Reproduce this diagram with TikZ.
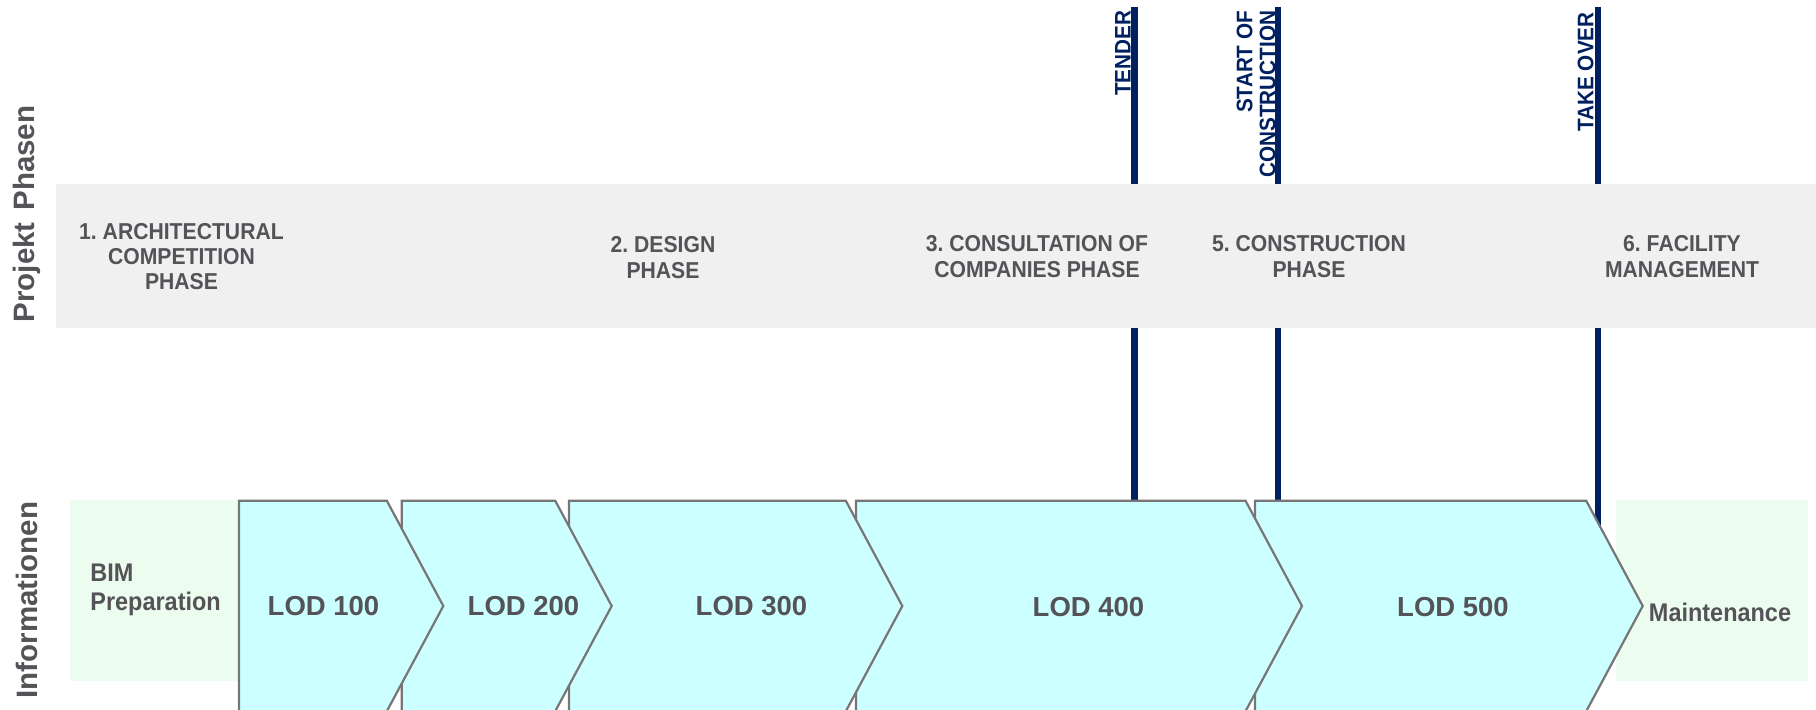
\documentclass[tikz,border=0pt]{standalone}
\usepackage{fontspec}
\setmainfont{Liberation Sans}
\newfontfamily\narrowsans[FakeStretch=0.92]{Liberation Sans}
\frenchspacing
\definecolor{bandgray}{RGB}{240,240,240}
\definecolor{labelgray}{RGB}{83,83,88}
\definecolor{milenavy}{RGB}{0,32,96}
\definecolor{lodcyan}{RGB}{204,255,255}
\definecolor{lodedge}{RGB}{118,118,118}
\definecolor{prepgreen}{RGB}{236,252,238}

\begin{document}
\begin{tikzpicture}[x=0.5pt,y=0.5pt,yscale=-1,xscale=1,
  phasetext/.style={text=labelgray,font=\narrowsans\fontsize{11.5}{13}\selectfont\bfseries,align=center,inner sep=0pt},
  milestone/.style={text=milenavy,font=\narrowsans\fontsize{11.25}{11.5}\selectfont\bfseries,rotate=90,anchor=south east,align=right,inner sep=0pt},
  mileline/.style={draw=milenavy,line width=3.3pt},
  lodbox/.style={draw=lodedge,fill=lodcyan,line width=1.1pt},
  lodtext/.style={text=labelgray,font=\fontsize{13.75}{16}\selectfont\bfseries,inner sep=0pt},
  sidetext/.style={text=labelgray,font=\fontsize{14.75}{16}\selectfont\bfseries,rotate=90,inner sep=0pt},
  infotext/.style={text=labelgray,font=\narrowsans\fontsize{12.75}{14.5}\selectfont\bfseries,inner sep=0pt}]
\path[use as bounding box] (0,0) rectangle (1816,710);

%Milestone lines
\coordinate (tendertop) at (1134.3,7);
\coordinate (tenderbot) at (1134.3,600);
\coordinate (starttop) at (1278,7);
\coordinate (startbot) at (1278,600);
\coordinate (takeovertop) at (1598,7);
\coordinate (takeoverbot) at (1598,600);
\draw [mileline] (tendertop) -- (tenderbot);
\draw [mileline] (starttop) -- (startbot);
\draw [mileline] (takeovertop) -- (takeoverbot);

%Shape: Rectangle [phase band]
\fill [bandgray] (56,184) rectangle (1816,328);
%Shape: Rectangle [preparation / maintenance]
\fill [prepgreen] (70,500) rectangle (239,681);
\fill [prepgreen] (1616,500) rectangle (1808,681);

%Shape: Chevrons, right to left
\draw [lodbox] (1255,500.7) -- (1586.2,500.7) -- (1642.7,606) -- (1586.2,711.3) -- (1255,711.3) -- cycle;
\draw [lodbox] (856,500.7) -- (1245.5,500.7) -- (1302,606) -- (1245.5,711.3) -- (856,711.3) -- cycle;
\draw [lodbox] (569,500.7) -- (845.8,500.7) -- (902.3,606) -- (845.8,711.3) -- (569,711.3) -- cycle;
\draw [lodbox] (401.7,500.7) -- (555.2,500.7) -- (611.7,606) -- (555.2,711.3) -- (401.7,711.3) -- cycle;
\draw [lodbox] (239,500.7) -- (386.8,500.7) -- (443.3,606) -- (386.8,711.3) -- (239,711.3) -- cycle;

% Text Node
\draw (27,214) node [sidetext] (projekt) {Projekt\hspace{0.4em}Phasen};
% Text Node
\draw (27,600) node [sidetext] (info) {Informationen};
% Text Node
\draw (1131,10.5) node [milestone] (tender) {TENDER};
% Text Node
\draw (1276,10.5) node [milestone] (startcon) {START OF\\CONSTRUCTION};
% Text Node
\draw (1594,12) node [milestone] (takeover) {TAKE OVER};
% Text Node
\draw (181.5,257) node [phasetext,font=\narrowsans\fontsize{11.5}{12.5}\selectfont\bfseries] (phase1) {1. ARCHITECTURAL\\COMPETITION\\PHASE};
% Text Node
\draw (663,257.5) node [phasetext] (phase2) {2. DESIGN\\PHASE};
% Text Node
\draw (1037,257) node [phasetext] (phase3) {3. CONSULTATION OF\\COMPANIES PHASE};
% Text Node
\draw (1309,257) node [phasetext] (phase5) {5. CONSTRUCTION\\PHASE};
% Text Node
\draw (1682,257) node [phasetext] (phase6) {6. FACILITY\\MANAGEMENT};
% Text Node
\draw (90,590) node [infotext,anchor=west,align=left] (bim) {BIM\\Preparation};
% Text Node
\draw (323.5,606) node [lodtext] (lod100) {LOD 100};
% Text Node
\draw (523.5,606) node [lodtext] (lod200) {LOD 200};
% Text Node
\draw (751.5,606) node [lodtext] (lod300) {LOD 300};
% Text Node
\draw (1088.5,607) node [lodtext] (lod400) {LOD 400};
% Text Node
\draw (1453,607) node [lodtext] (lod500) {LOD 500};
% Text Node
\draw (1720,612) node [infotext] (maint) {Maintenance};

\end{tikzpicture}
\end{document}
